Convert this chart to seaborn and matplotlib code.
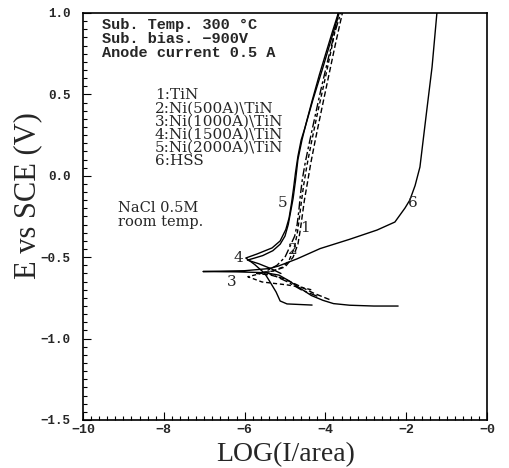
import matplotlib
matplotlib.use("Agg")
import matplotlib.pyplot as plt
import numpy as np
import pandas as pd
import seaborn as sns
from matplotlib.ticker import FixedLocator, MultipleLocator

# ---------------- data ----------------
c1_x = [-3.9, -4.3, -4.7, -5.05, -5.35, -5.7, -5.3, -5.0, -4.8, -4.68, -4.62, -4.57,
        -4.52, -4.45, -4.36, -4.25, -4.1, -3.93, -3.76, -3.58]
c1_y = [-0.76, -0.72, -0.67, -0.63, -0.61, -0.60, -0.585, -0.56, -0.50, -0.42, -0.33, -0.24,
        -0.15, -0.05, 0.08, 0.22, 0.40, 0.60, 0.80, 1.0]

c2_x = [-4.2, -4.6, -4.95, -5.25, -5.5, -5.2, -5.0, -4.87, -4.76, -4.70, -4.66, -4.62,
        -4.57, -4.50, -4.40, -4.27, -4.12, -3.95, -3.78, -3.62]
c2_y = [-0.74, -0.70, -0.65, -0.615, -0.59, -0.55, -0.50, -0.43, -0.37, -0.30, -0.22, -0.12,
        -0.02, 0.08, 0.20, 0.35, 0.52, 0.70, 0.87, 1.0]

c3_x = [-4.35, -4.63, -4.95, -5.3, -5.57, -5.92, -5.6, -5.3, -5.05, -4.9, -4.78, -4.70,
        -4.65, -4.60, -4.54, -4.46, -4.35, -4.2, -4.03, -3.85, -3.68]
c3_y = [-0.70, -0.683, -0.67, -0.66, -0.652, -0.62, -0.60, -0.585, -0.56, -0.52, -0.45, -0.36,
        -0.27, -0.17, -0.06, 0.06, 0.20, 0.38, 0.57, 0.78, 1.0]

c4_x = [-5.1, -5.35, -5.65, -5.93, -5.75, -5.55, -5.30, -5.12, -5.0, -4.92, -4.86, -4.80,
        -4.74, -4.68, -4.58, -4.48, -4.33, -4.15, -3.98, -3.82, -3.68]
c4_y = [-0.60, -0.57, -0.54, -0.518, -0.505, -0.49, -0.46, -0.42, -0.37, -0.30, -0.22, -0.14,
        -0.03, 0.10, 0.22, 0.32, 0.46, 0.62, 0.76, 0.89, 1.0]

c5_x = [-4.33, -4.95, -5.12, -5.22, -5.37, -5.5, -5.75, -5.97, -5.69, -5.32, -5.12, -4.98,
        -4.90, -4.84, -4.79, -4.74, -4.68, -4.60, -4.50, -4.31, -4.08, -3.86, -3.66]
c5_y = [-0.794, -0.787, -0.769, -0.714, -0.652, -0.60, -0.545, -0.505, -0.48, -0.443, -0.40, -0.33,
        -0.26, -0.17, -0.08, 0.02, 0.12, 0.22, 0.30, 0.466, 0.65, 0.834, 1.0]

c6_x = [-2.2, -2.8, -3.4, -3.8, -4.06, -4.35, -4.63, -4.9, -5.15, -5.5, -6.2, -7.03,
        -6.0, -5.4, -5.17, -4.7, -4.13, -3.4, -2.72, -2.28, -2.03, -1.91, -1.78, -1.66,
        -1.49, -1.36, -1.24]
c6_y = [-0.80, -0.80, -0.795, -0.785, -0.765, -0.735, -0.69, -0.645, -0.61, -0.595, -0.59, -0.588,
        -0.583, -0.57, -0.555, -0.51, -0.447, -0.39, -0.333, -0.284, -0.198, -0.149, -0.06, 0.054,
        0.404, 0.668, 1.0]

curve_ids = ["1", "2", "3", "4", "5", "6"]
curve_labels_pos_x = [-4.50, -4.80, -6.31, -6.16, -5.05, -1.83]
curve_labels_pos_y = [-0.32, -0.456, -0.652, -0.505, -0.167, -0.167]

legend_lines = ["1:TiN", "2:Ni(500A)\\TiN", "3:Ni(1000A)\\TiN", "4:Ni(1500A)\\TiN",
                "5:Ni(2000A)\\TiN", "6:HSS"]
cond_lines = ["Sub. Temp. 300 \u00b0C", "Sub. bias. \u2212900V", "Anode current 0.5 A"]
sol_lines = ["NaCl 0.5M", "room temp."]

x_ticks = [-10, -8, -6, -4, -2, 0]
x_tick_labels = ["\u221210", "\u22128", "\u22126", "\u22124", "\u22122", "\u22120"]
y_ticks = [1.0, 0.5, 0.0, -0.5, -1.0, -1.5]
y_tick_labels = ["1.0", "0.5", "0.0", "\u22120.5", "\u22121.0", "\u22121.5"]

# ---------------- build long table ----------------
xs = [c1_x, c2_x, c3_x, c4_x, c5_x, c6_x]
ys = [c1_y, c2_y, c3_y, c4_y, c5_y, c6_y]
rows = []
for cid, cx, cy in zip(curve_ids, xs, ys):
    for i, (a, b) in enumerate(zip(cx, cy)):
        rows.append({"curve": cid, "order": i, "logi": a, "E": b})
df = pd.DataFrame(rows)

sns.set_style("ticks")
mono = ["Liberation Mono", "DejaVu Sans Mono"]
serif = ["DejaVu Serif"]

fig = plt.figure(figsize=(5.1, 4.68), dpi=100)
ax = fig.add_axes([83 / 510, 1 - 420 / 468, (487 - 83) / 510, (420 - 13) / 468])

sns.lineplot(data=df, x="logi", y="E", hue="curve", style="curve", sort=False,
             estimator=None, palette={c: "black" for c in curve_ids},
             dashes={"1": (4, 2), "2": (6, 2, 2, 2), "3": (3, 2), "4": "", "5": "", "6": ""},
             linewidth=1.0, legend=False, ax=ax)

ax.set_xlim(-10, 0)
ax.set_ylim(-1.5, 1.0)
ax.xaxis.set_major_locator(FixedLocator(x_ticks))
ax.set_xticklabels(x_tick_labels, family=mono, weight="bold", fontsize=9.5)
ax.xaxis.set_minor_locator(MultipleLocator(0.2))
ax.yaxis.set_major_locator(FixedLocator(y_ticks))
ax.set_yticklabels(y_tick_labels, family=mono, weight="bold", fontsize=9)
ax.yaxis.set_minor_locator(MultipleLocator(0.05))
ax.tick_params(which="both", direction="in", top=False, right=False, color="black",
               width=0.8)
ax.tick_params(which="major", length=6)
ax.tick_params(axis="x", which="major", pad=3)
ax.tick_params(axis="y", which="major", pad=9)
ax.tick_params(which="minor", length=3)
for s in ax.spines.values():
    s.set_color("black")
    s.set_linewidth(1.2)
ax.set_xlabel("")
ax.set_ylabel("")

fig.text(286 / 510, 1 - 455 / 468, "LOG(I/area)", family=["Liberation Serif"], fontsize=20,
         ha="center", va="center")
fig.text(28 / 510, 1 - 196 / 468, "E vs SCE (V)", family=["Liberation Serif"], fontsize=22,
         ha="center", va="center", rotation=90)

for i, t in enumerate(cond_lines):
    ax.text(-9.53, 0.926 - i * 0.086, t, family=mono, weight="bold", fontsize=11,
            ha="left", va="center")
for i, t in enumerate(legend_lines):
    ax.text(-8.22, 0.496 - i * 0.081, t, family=serif, fontsize=11, ha="left", va="center")
for i, t in enumerate(sol_lines):
    ax.text(-9.13, -0.198 - i * 0.086, t, family=serif, fontsize=10.5, ha="left", va="center")
for cid, lx, ly in zip(curve_ids, curve_labels_pos_x, curve_labels_pos_y):
    ax.text(lx, ly, cid, family=serif, fontsize=11, ha="center", va="center")

fig.savefig("out.png", dpi=100)
